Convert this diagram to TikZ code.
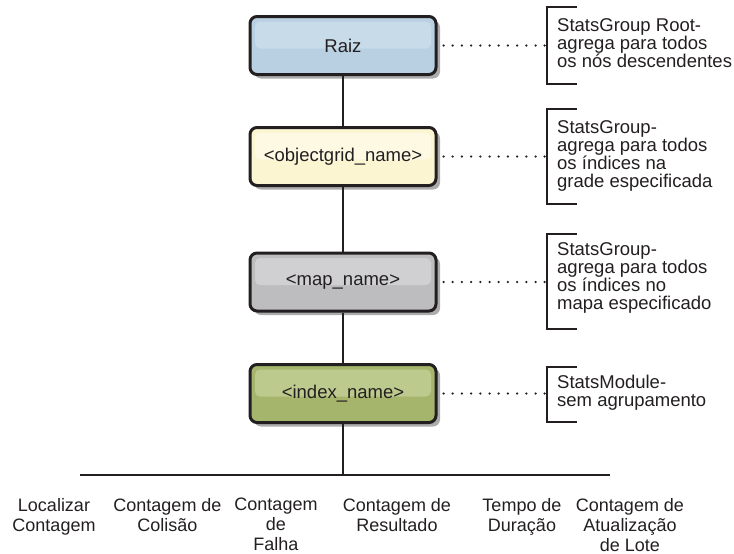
\documentclass[tikz,border=0pt]{standalone}
\usepackage{fontspec}
\setmainfont{Liberation Sans}
\usetikzlibrary{shadows,calc}
% fixed line spacing in the multi-line labels
\lineskiplimit=-30pt
\lineskip=0pt

\definecolor{ink}{HTML}{231F20}
\definecolor{rootfill}{HTML}{B8D0E1}
\definecolor{roothl}{HTML}{C8DBE9}
\definecolor{gridfill}{HTML}{FBF5D2}
\definecolor{gridhl}{HTML}{FDF9E2}
\definecolor{mapfill}{HTML}{BDBDBF}
\definecolor{maphl}{HTML}{D0D0D2}
\definecolor{idxfill}{HTML}{A5B56B}
\definecolor{idxhl}{HTML}{BCCA8D}

\begin{document}
\begin{tikzpicture}[x=1pt,y=-1pt,
  box/.style 2 args={draw=ink, line width=3pt, rounded corners=7pt,
    minimum width=186pt, minimum height=58pt, inner sep=0pt,
    fill=#1, text=ink, font=\fontsize{18.5}{20}\selectfont,
    drop shadow={shadow xshift=4pt, shadow yshift=-4pt, fill=black!38, opacity=0.85},
    path picture={\fill[#2, rounded corners=5pt]
      ($(path picture bounding box.north west)+(5pt,-5pt)$) rectangle
      ($(path picture bounding box.east)+(-5pt,-3pt)$);}},
  link/.style={draw=ink, line width=2.5pt},
  dotline/.style={draw=ink, line width=2.5pt, line cap=round, dash pattern=on 0pt off 9.2pt},
  bracket/.style={draw=ink, line width=2.6pt},
  note/.style={anchor=west, inner sep=0pt, align=left, text=ink,
    font=\fontsize{18.5}{18}\selectfont},
  leaf/.style={anchor=north, inner sep=0pt, align=center, text=ink,
    font=\fontsize{18}{20}\selectfont}
]
\useasboundingbox (0,0) rectangle (734,554);

% hierarchy boxes
\node[box={rootfill}{roothl}] (root) at (343,45.5) {Raiz};
\node[box={gridfill}{gridhl}] (grid) at (343,156.5) {<objectgrid\_name>};
\node[box={mapfill}{maphl}]   (map)  at (343,282)   {<map\_name>};
\node[box={idxfill}{idxhl}]   (idx)  at (343,393.5) {<index\_name>};

% vertical links and the bottom bus
\draw[link] (root.south) -- (grid.north);
\draw[link] (grid.south) -- (map.north);
\draw[link] (map.south) -- (idx.north);
\coordinate (bus)  at (343,475);
\coordinate (busL) at (80,475);
\coordinate (busR) at (610,475);
\draw[link] (idx.south) -- (bus);
\draw[link] (busL) -- (busR);

% brackets with their notes
\coordinate (b1) at (547,45.5);
\coordinate (b2) at (547,156.5);
\coordinate (b3) at (547,282);
\coordinate (b4) at (547,393.5);
\draw[bracket] (577,7)   -- (547,7)   -- (547,84)  -- (577,84);
\draw[bracket] (577,109) -- (547,109) -- (547,204) -- (577,204);
\draw[bracket] (577,234) -- (547,234) -- (547,329) -- (577,329);
\draw[bracket] (577,367) -- (547,367) -- (547,422) -- (577,422);

\draw[dotline] ([xshift=6pt]root.east) -- (b1);
\draw[dotline] ([xshift=6pt]grid.east) -- (b2);
\draw[dotline] ([xshift=6pt]map.east)  -- (b3);
\draw[dotline] ([xshift=6pt]idx.east)  -- (b4);

\node[note] (n1) at (557,43.5)  {StatsGroup Root-\\agrega para todos\\os nós descendentes};
\node[note] (n2) at (557,156)   {StatsGroup-\\agrega para todos\\os índices na\\grade especificada};
\node[note] (n3) at (557,278)   {StatsGroup-\\agrega para todos\\os índices no\\mapa especificado};
\node[note] (n4) at (557,393)   {StatsModule-\\sem agrupamento};

% statistics under the index level
\node[leaf] (s1) at (54,498)    {Localizar\\Contagem};
\node[leaf] (s2) at (167.5,498) {Contagem de\\Colisão};
\node[leaf] (s3) at (276,498)   {Contagem\\de\\Falha};
\node[leaf] (s4) at (397,498)   {Contagem de\\Resultado};
\node[leaf] (s5) at (522,498)   {Tempo de\\Duração};
\node[leaf] (s6) at (630,498)   {Contagem de\\Atualização\\de Lote};
\end{tikzpicture}
\end{document}
